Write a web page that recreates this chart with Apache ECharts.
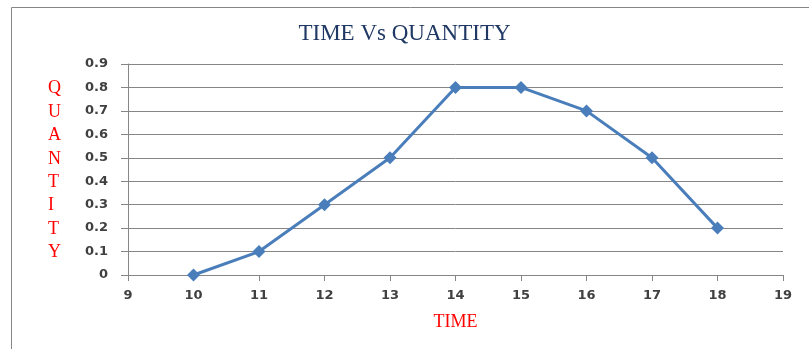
<!DOCTYPE html>
<html>
<head>
<meta charset="utf-8">
<script src="https://cdn.jsdelivr.net/npm/echarts@6/dist/echarts.min.js"></script>
<style>
  html, body { margin: 0; padding: 0; background: #fff; }
  #chart { width: 809px; height: 349px; }
</style>
</head>
<body>
<div id="chart"></div>
<script>
// data
var times = [10, 11, 12, 13, 14, 15, 16, 17, 18];
var quantities = [0, 0.1, 0.3, 0.5, 0.8, 0.8, 0.7, 0.5, 0.2];
var yTitleLetters = ['Q', 'U', 'A', 'N', 'T', 'I', 'T', 'Y'];

var points = times.map(function (t, i) { return [t, quantities[i]]; });

var chart = echarts.init(document.getElementById('chart'));
var labelStyle = { color: '#404040', fontFamily: 'DejaVu Sans', fontSize: 13, fontWeight: 'bold' };

chart.setOption({
  animation: false,
  title: {
    text: 'TIME Vs QUANTITY',
    left: 'center',
    top: 17,
    textStyle: { color: '#1f3864', fontFamily: 'Liberation Serif', fontSize: 23, fontWeight: 'normal' }
  },
  grid: { left: 128, right: 26, top: 64, bottom: 74 },
  xAxis: {
    type: 'value',
    min: 9, max: 19, interval: 1,
    name: 'TIME',
    nameLocation: 'middle',
    nameGap: 38,
    nameTextStyle: { color: '#ff0000', fontFamily: 'Liberation Serif', fontSize: 18 },
    axisLine: { lineStyle: { color: '#868686', width: 1 } },
    axisTick: { show: true, length: 6, lineStyle: { color: '#868686' } },
    axisLabel: Object.assign({ margin: 14 }, labelStyle),
    splitLine: { show: false }
  },
  yAxis: {
    type: 'value',
    min: 0, max: 0.9, interval: 0.1,
    axisLine: { show: true, lineStyle: { color: '#868686', width: 1 } },
    axisTick: { show: true, length: 7, lineStyle: { color: '#868686' } },
    axisLabel: Object.assign({ margin: 20, formatter: function (v) { return String(+v.toFixed(1)); } }, labelStyle),
    splitLine: { lineStyle: { color: '#868686', width: 1 } }
  },
  graphic: [
    {
      type: 'rect',
      shape: { x: 11.5, y: 7.5, width: 820, height: 360 },
      style: { fill: 'none', stroke: '#868686', lineWidth: 1 },
      silent: true
    },
    {
      type: 'text',
      left: 48,
      top: 77,
      style: {
        text: yTitleLetters.join('\n'),
        fill: '#ff0000',
        font: '18px "Liberation Serif"',
        lineHeight: 23.4,
        align: 'center'
      }
    }
  ],
  series: [{
    type: 'line',
    data: points,
    symbol: 'diamond',
    symbolSize: 13,
    lineStyle: { color: '#4a7ebb', width: 3 },
    itemStyle: { color: '#4a7ebb' }
  }]
});
</script>
</body>
</html>
